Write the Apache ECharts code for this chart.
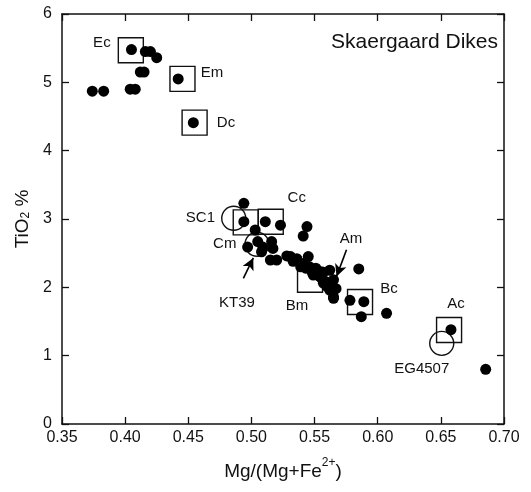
<!DOCTYPE html>
<html>
<head>
<meta charset="utf-8">
<script src="https://cdn.jsdelivr.net/npm/echarts@6/dist/echarts.min.js"></script>
<style>html,body{margin:0;padding:0;background:#fff}#c{width:531px;height:492px}</style>
</head>
<body>
<div id="c"></div>
<script>
// ---- data ----
const xTicks = [0.35, 0.40, 0.45, 0.50, 0.55, 0.60, 0.65, 0.70];
const yTicks = [0, 1, 2, 3, 4, 5, 6];
const dotsX = [
  0.374,0.383,0.404,0.408,0.405,0.416,0.420,0.425,0.412,0.415,0.442,0.454,
  0.494,0.494,0.511,0.523,0.503,0.497,0.505,0.509,0.516,0.517,0.508,0.515,0.520,0.544,0.541,
  0.528,0.531,0.536,0.533,0.545,0.539,0.546,0.534,0.541,0.543,0.548,0.551,0.549,0.554,0.556,0.557,0.559,0.562,0.565,0.560,0.563,0.562,0.567,0.565,0.565,0.552,0.551,0.557,0.565,
  0.585,0.578,0.589,0.587,0.607,0.658,0.6855
];
const dotsY = [
  4.87,4.87,4.90,4.90,5.48,5.45,5.45,5.36,5.15,5.15,5.05,4.41,
  3.23,2.96,2.96,2.91,2.84,2.59,2.67,2.59,2.67,2.57,2.52,2.40,2.40,2.89,2.75,
  2.46,2.45,2.42,2.38,2.45,2.30,2.30,2.40,2.35,2.28,2.22,2.20,2.18,2.16,2.12,2.06,2.08,2.25,2.11,2.01,2.03,1.96,1.98,1.86,1.84,2.25,2.28,2.22,1.96,
  2.27,1.81,1.79,1.57,1.62,1.38,0.80
];
const boxNames = ['Ec','Em','Dc','Cm','Cc','Bm','Bc','Ac'];
const boxX = [0.4045,0.4454,0.455,0.4955,0.5153,0.5464,0.586,0.6565];
const boxY = [5.47,5.05,4.41,2.95,2.96,2.11,1.785,1.376];
const circleNames = ['SC1','KT39','EG4507'];
const circleX = [0.486,0.5044,0.6507];
const circleY = [3.01,2.63,1.18];
const noteNames = ['KT39','Am'];
const noteX = [0.4886,0.5789];
const noteY = [1.785,2.72];
const arrowFrom = [[0.4936,2.13],[0.5753,2.55]];
const arrowTo = [[0.5015,2.43],[0.5674,2.16]];

// ---- styling / layout ----
const labelLayout = {
  Ec:{position:'left',offset:[-2,-7]},
  Em:{position:'right',offset:[0,-6]},
  Dc:{position:'right',offset:[4,0]},
  Cm:{position:'bottom',offset:[-21,-4]},
  Cc:{position:'top',offset:[26,2]},
  Bm:{position:'bottom',offset:[-13,0]},
  Bc:{position:'right',offset:[2,-13]},
  Ac:{position:'top',offset:[7,0]},
  SC1:{position:'left',offset:[-1,0]},
  KT39:null,
  EG4507:{position:'bottom',offset:[-20,0]}
};
const FONT = 'Liberation Sans, Arial, Helvetica, sans-serif';
const INK = '#111';
function mkItems(names, xs, ys) {
  return names.map((n, i) => {
    const lay = labelLayout[n];
    const item = { name: n, value: [xs[i], ys[i]] };
    if (lay) {
      item.label = Object.assign({ show: true, formatter: n, color: INK, fontSize: 15, fontFamily: FONT }, lay);
    }
    return item;
  });
}
const axisCommon = {
  axisLine: { show: true, onZero: false, lineStyle: { color: INK, width: 1.5 } },
  axisTick: { show: true, inside: true, length: 7, lineStyle: { color: INK, width: 1.3 } },
  splitLine: { show: false }
};
const chart = echarts.init(document.getElementById('c'), null, { renderer: 'canvas' });
chart.setOption({
  animation: false,
  backgroundColor: '#fff',
  title: { text: 'Skaergaard Dikes', right: 33, top: 32, padding: 0,
    textStyle: { fontSize: 21, fontWeight: 'normal', color: INK, fontFamily: FONT } },
  grid: { left: 62, right: 27, top: 14, bottom: 68 },
  xAxis: [
    Object.assign({ type: 'value', min: xTicks[0], max: xTicks[xTicks.length - 1], interval: 0.05, position: 'bottom',
      axisLabel: { margin: 6, color: INK, fontSize: 16, fontFamily: FONT, formatter: v => v.toFixed(2) },
      name: 'Mg/(Mg+Fe{sup|2+})', nameLocation: 'middle', nameGap: 33,
      nameTextStyle: { color: INK, fontSize: 19, fontFamily: FONT,
        rich: { sup: { fontSize: 12, color: INK, fontFamily: FONT, verticalAlign: 'top', lineHeight: 30 } } } }, axisCommon),
    Object.assign({ type: 'value', min: xTicks[0], max: xTicks[xTicks.length - 1], interval: 0.05, position: 'top',
      axisLabel: { show: false } }, axisCommon)
  ],
  yAxis: [
    Object.assign({ type: 'value', min: yTicks[0], max: yTicks[yTicks.length - 1], interval: 1, position: 'left',
      axisLabel: { margin: 10, color: INK, fontSize: 16, fontFamily: FONT },
      name: 'TiO{sub|2} %', nameLocation: 'middle', nameGap: 30,
      nameTextStyle: { color: INK, fontSize: 19, fontFamily: FONT,
        rich: { sub: { fontSize: 12, color: INK, fontFamily: FONT, verticalAlign: 'bottom', lineHeight: 8 } } } }, axisCommon),
    Object.assign({ type: 'value', min: yTicks[0], max: yTicks[yTicks.length - 1], interval: 1, position: 'right',
      axisLabel: { show: false } }, axisCommon)
  ],
  series: [
    { type: 'scatter', name: 'boxes', symbol: 'rect', symbolSize: 25, z: 2, silent: true,
      itemStyle: { color: 'rgba(0,0,0,0)', borderColor: INK, borderWidth: 1.4, opacity: 1 },
      data: mkItems(boxNames, boxX, boxY) },
    { type: 'scatter', name: 'circles', symbol: 'circle', symbolSize: 24, z: 2, silent: true,
      itemStyle: { color: 'rgba(0,0,0,0)', borderColor: INK, borderWidth: 1.4, opacity: 1 },
      data: mkItems(circleNames, circleX, circleY) },
    { type: 'scatter', name: 'dots', symbol: 'circle', symbolSize: 11, z: 3, silent: true,
      itemStyle: { color: '#000', opacity: 1 },
      data: dotsX.map((x, i) => [x, dotsY[i]]) },
    { type: 'scatter', name: 'notes', symbol: 'rect', symbolSize: 1, z: 4, silent: true,
      itemStyle: { color: 'rgba(0,0,0,0)', opacity: 1 },
      data: noteNames.map((n, i) => ({ name: n, value: [noteX[i], noteY[i]],
        label: { show: true, position: 'top', distance: 0, offset: [0, 9], formatter: n,
          color: INK, opacity: 1, fontSize: 15, fontFamily: FONT } })),
      markLine: { silent: true, animation: false, symbol: ['none', 'arrow'], symbolSize: [9, 12],
        label: { show: false }, emphasis: { disabled: true },
        lineStyle: { color: '#000', width: 1.6, type: 'solid', opacity: 1 },
        data: arrowFrom.map((f, i) => [{ coord: f }, { coord: arrowTo[i] }]) } }
  ]
});
</script>
</body>
</html>
